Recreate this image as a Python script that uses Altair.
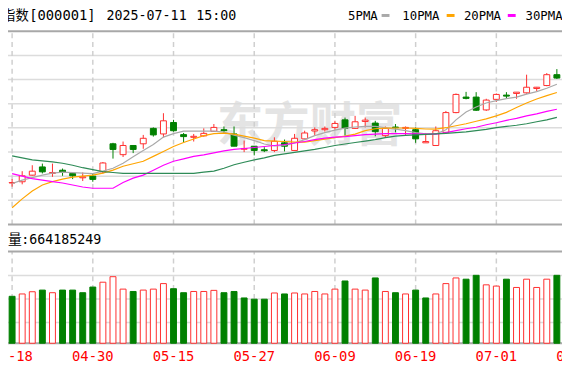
import altair as alt
import pandas as pd

# ---------------- data ----------------
dates = ["04-18","04-21","04-22","04-23","04-24","04-25","04-28","04-29","04-30","05-06",
         "05-07","05-08","05-09","05-12","05-13","05-14","05-15","05-16","05-19","05-20",
         "05-21","05-22","05-23","05-26","05-27","05-28","05-29","05-30","06-03","06-04",
         "06-05","06-06","06-09","06-10","06-11","06-12","06-13","06-16","06-17","06-18",
         "06-19","06-20","06-23","06-24","06-25","06-26","06-27","06-30","07-01","07-02",
         "07-03","07-04","07-07","07-08","07-09"]

opens = [3275.8, 3278.4, 3292.1, 3309.1, 3295.6, 3302.3, 3295.6, 3286.6, 3290.1, 3298.9,
         3357.0, 3334.5, 3353.5, 3357.0, 3388.9, 3377.4, 3401.1, 3376.0, 3370.4, 3373.3,
         3382.7, 3386.2, 3377.4, 3345.7, 3352.0, 3344.7, 3343.2, 3359.0, 3343.2, 3367.2,
         3383.5, 3386.2, 3390.9, 3406.6, 3388.9, 3403.2, 3399.9, 3373.9, 3391.7, 3388.9,
         3386.2, 3359.0, 3353.5, 3380.7, 3421.6, 3453.7, 3453.7, 3427.1, 3449.0, 3457.8,
         3461.2, 3462.5, 3471.5, 3477.6, 3500.1]
closes = [3276.8, 3290.7, 3300.3, 3298.9, 3297.6, 3297.6, 3290.7, 3288.6, 3283.3, 3317.3,
          3345.3, 3353.5, 3345.3, 3368.4, 3375.4, 3404.6, 3384.1, 3371.9, 3372.5, 3378.6,
          3390.9, 3384.1, 3352.0, 3347.3, 3343.2, 3342.6, 3362.3, 3352.0, 3368.4, 3379.4,
          3386.2, 3388.9, 3399.1, 3388.9, 3402.6, 3406.0, 3382.1, 3388.9, 3390.3, 3390.9,
          3367.2, 3361.7, 3384.1, 3421.6, 3459.2, 3451.0, 3426.5, 3447.5, 3459.2, 3455.7,
          3463.9, 3474.1, 3474.1, 3500.1, 3493.1]
highs = [3283.9, 3300.3, 3312.6, 3316.0, 3316.0, 3305.8, 3296.2, 3297.6, 3295.6, 3319.3,
         3359.0, 3361.7, 3353.5, 3375.4, 3390.9, 3420.3, 3406.6, 3379.4, 3377.4, 3388.9,
         3397.9, 3392.9, 3392.9, 3363.7, 3352.0, 3350.0, 3370.4, 3365.7, 3377.4, 3384.1,
         3390.9, 3392.9, 3404.6, 3411.3, 3414.8, 3411.3, 3404.6, 3392.9, 3397.9, 3392.9,
         3390.9, 3379.4, 3392.9, 3425.0, 3461.2, 3464.5, 3463.9, 3450.2, 3461.2, 3463.9,
         3463.9, 3500.1, 3474.7, 3503.4, 3511.6]
lows = [3268.2, 3273.1, 3291.1, 3295.6, 3288.6, 3290.7, 3283.9, 3279.9, 3278.4, 3295.6,
        3326.3, 3329.6, 3337.7, 3346.7, 3371.9, 3370.4, 3382.1, 3360.2, 3361.7, 3371.9,
        3382.1, 3377.4, 3352.0, 3339.8, 3333.0, 3339.8, 3339.8, 3341.2, 3343.2, 3365.7,
        3373.9, 3382.1, 3386.2, 3373.9, 3387.6, 3390.9, 3372.5, 3370.4, 3380.7, 3375.4,
        3359.0, 3359.0, 3353.5, 3379.4, 3420.3, 3449.0, 3425.0, 3425.0, 3443.5, 3450.2,
        3450.2, 3460.4, 3465.9, 3476.2, 3491.1]

ma5 = [3274.7, 3281.9, 3287.0, 3292.1, 3296.2, 3298.3, 3297.2, 3296.2, 3295.2, 3300.3,
       3306.4, 3316.7, 3330.0, 3343.3, 3355.5, 3370.9, 3378.0, 3383.1, 3383.1, 3383.1,
       3383.1, 3381.1, 3375.0, 3369.8, 3363.7, 3356.5, 3352.5, 3353.5, 3358.6, 3365.7,
       3373.9, 3380.1, 3385.2, 3389.3, 3391.7, 3392.9, 3392.9, 3390.3, 3387.2, 3384.2,
       3380.1, 3377.4, 3377.4, 3386.2, 3406.6, 3423.0, 3433.2, 3441.4, 3446.5, 3450.6,
       3453.7, 3459.8, 3464.9, 3472.1, 3480.3]
ma10 = [3224.6, 3243.0, 3259.4, 3271.7, 3278.8, 3283.9, 3288.0, 3290.1, 3292.1, 3296.2,
        3302.4, 3310.5, 3315.6, 3320.8, 3331.0, 3341.2, 3351.4, 3359.6, 3366.8, 3373.9,
        3378.0, 3379.0, 3377.0, 3372.9, 3368.8, 3363.7, 3362.7, 3361.7, 3360.6, 3360.6,
        3363.7, 3366.8, 3369.8, 3372.9, 3377.0, 3384.2, 3388.2, 3389.3, 3389.7, 3389.7,
        3388.9, 3387.6, 3387.2, 3390.3, 3394.4, 3398.5, 3403.6, 3408.7, 3414.8, 3422.0,
        3432.2, 3441.4, 3449.6, 3456.8, 3463.3]
ma20 = [3295.2, 3290.1, 3285.0, 3281.9, 3278.8, 3275.8, 3271.7, 3267.6, 3264.9, 3264.9,
        3264.9, 3276.8, 3286.0, 3292.1, 3302.4, 3312.6, 3320.8, 3325.9, 3331.0, 3334.0,
        3338.1, 3342.2, 3345.3, 3347.3, 3349.4, 3351.4, 3353.5, 3355.5, 3358.6, 3361.7,
        3365.7, 3368.8, 3370.9, 3371.9, 3373.9, 3376.0, 3377.0, 3378.0, 3378.0, 3378.0,
        3377.4, 3377.0, 3377.0, 3380.1, 3384.2, 3388.2, 3391.3, 3396.4, 3400.5, 3405.6,
        3409.7, 3414.8, 3418.9, 3424.0, 3428.5]
ma30 = [3332.0, 3327.9, 3323.8, 3321.8, 3319.7, 3316.7, 3312.6, 3307.5, 3303.4, 3299.3,
        3297.6, 3295.6, 3295.6, 3295.6, 3295.6, 3295.6, 3295.6, 3295.6, 3295.6, 3298.3,
        3300.3, 3306.4, 3313.6, 3318.7, 3323.8, 3327.9, 3333.0, 3336.1, 3339.2, 3342.2,
        3345.3, 3349.4, 3353.5, 3356.5, 3359.6, 3362.7, 3365.7, 3369.8, 3372.9, 3374.5,
        3375.4, 3376.4, 3377.4, 3378.6, 3380.1, 3381.5, 3384.2, 3386.8, 3390.3, 3392.9,
        3395.4, 3398.5, 3402.6, 3406.6, 3411.8]

# volume in 1e8 (hands); 1 = up day (red hollow), 0 = down day (green)
volumes = [3.40, 3.57, 3.73, 3.85, 3.66, 3.85, 3.85, 3.66, 4.07, 4.42,
           4.82, 3.92, 3.75, 3.85, 3.92, 4.32, 3.95, 3.66, 3.75, 3.75,
           3.83, 3.66, 3.75, 3.28, 3.19, 3.19, 3.64, 3.57, 3.64, 3.57,
           3.75, 3.57, 3.92, 4.51, 3.92, 3.85, 4.73, 3.75, 3.66, 3.57,
           3.85, 3.28, 3.57, 4.32, 4.73, 4.64, 4.92, 4.23, 4.14, 4.64,
           4.04, 4.64, 4.04, 4.64, 4.92]
vol_up = [0, 1, 1, 0, 1, 0, 0, 0, 0, 1,
          1, 1, 0, 1, 1, 1, 0, 0, 1, 1,
          1, 0, 0, 0, 0, 0, 1, 0, 1, 1,
          1, 1, 1, 0, 1, 1, 0, 1, 0, 1,
          0, 0, 1, 1, 1, 0, 0, 1, 1, 0,
          1, 1, 1, 1, 0]

tick_index = [0, 8, 16, 24, 32, 40, 48, 56]
tick_labels = ["04-18", "04-30", "05-15", "05-27", "06-09", "06-19", "07-01", "07-11"]

price_grid = [3240, 3290, 3340, 3390, 3440, 3490, 3540]
price_lo, price_hi = 3190, 3590
vol_grid = [1.5, 3.2, 4.9]
vol_hi = 6.64

ma_names = ["5PMA", "10PMA", "20PMA", "30PMA"]
ma_colors = ["#a9a9a9", "#ffa500", "#ff00ff", "#2e8b57"]

title_code = "[000001]"
title_date = "2025-07-11"
title_time = "15:00"
vol_label = "成交量"
vol_value = ":664185249"

# ---------------- frames ----------------
idx = list(range(len(dates)))
candles = pd.DataFrame({"i": idx, "date": dates, "open": opens, "close": closes,
                        "high": highs, "low": lows})
candles["up"] = candles["close"] >= candles["open"]
vol = pd.DataFrame({"i": idx, "v": volumes, "up": [u == 1 for u in vol_up]})
ma = pd.concat([pd.DataFrame({"i": idx, "val": s, "name": n})
                for s, n in zip([ma5, ma10, ma20, ma30], ma_names)])
ticks = pd.DataFrame({"i": tick_index, "label": tick_labels,
                      "lo": price_lo, "hi": price_hi, "v0": 0.0, "v1": vol_hi})

RED = "#ff2d2d"
GREEN = "#008000"

XS = alt.Scale(domain=[-0.70, 54.02], nice=False, zero=False)
PS = alt.Scale(domain=[price_lo, price_hi], range=[225, 29], nice=False, zero=False)
VS = alt.Scale(domain=[0, vol_hi], range=[345.5, 252.5], nice=False, zero=False)

def X(f="i:Q"):
    return alt.X(f, scale=XS, axis=None)

def PY(f):
    return alt.Y(f, scale=PS, axis=None)

def VY(f):
    return alt.Y(f, scale=VS, axis=None)

layers = []

# watermark
layers.append(alt.Chart(pd.DataFrame({"t": ["东方财富"]})).mark_text(
    font="Noto Sans CJK SC", fontSize=47, fontWeight="bold", color="#e4e4e4",
    align="center", baseline="middle").encode(
    x=alt.value(314), y=alt.value(126), text="t:N"))

# horizontal grid (price)
layers.append(alt.Chart(pd.DataFrame({"p": price_grid})).mark_rule(
    color="#dcdcdc", strokeWidth=1.5).encode(
    y=PY("p:Q"), x=alt.value(0), x2=alt.value(570)))
# horizontal grid (volume)
layers.append(alt.Chart(pd.DataFrame({"v": vol_grid})).mark_rule(
    color="#dcdcdc", strokeWidth=1.5).encode(
    y=VY("v:Q"), x=alt.value(0), x2=alt.value(570)))

# vertical dashed grid
layers.append(alt.Chart(ticks).mark_rule(
    color="#cfcfcf", strokeWidth=1.5, strokeDash=[5, 4]).encode(
    x=X(), y=PY("lo:Q"), y2="hi:Q"))
layers.append(alt.Chart(ticks).mark_rule(
    color="#cfcfcf", strokeWidth=1.5, strokeDash=[5, 4]).encode(
    x=X(), y=VY("v0:Q"), y2="v1:Q"))

# panel borders
layers.append(alt.Chart(pd.DataFrame({"p": [price_lo, price_hi]})).mark_rule(
    color="#a8a8a8", strokeWidth=2).encode(
    y=PY("p:Q"), x=alt.value(0), x2=alt.value(570)))
layers.append(alt.Chart(pd.DataFrame({"v": [0.0, vol_hi]})).mark_rule(
    color="#a8a8a8", strokeWidth=2).encode(
    y=VY("v:Q"), x=alt.value(0), x2=alt.value(570)))

# candles: wicks
layers.append(alt.Chart(candles).mark_rule(strokeWidth=1).encode(
    x=X(), y=PY("high:Q"), y2="low:Q",
    color=alt.Color("up:N", scale=alt.Scale(domain=[True, False], range=[RED, GREEN]),
                    legend=None)))
# candles: bodies
layers.append(alt.Chart(candles).transform_filter("datum.up").mark_bar(
    size=6, fill="white", stroke=RED, strokeWidth=1).encode(
    x=X(), y=PY("open:Q"), y2="close:Q"))
layers.append(alt.Chart(candles).transform_filter("!datum.up").mark_bar(
    size=6, fill=GREEN, stroke=GREEN, strokeWidth=1).encode(
    x=X(), y=PY("open:Q"), y2="close:Q"))

# moving averages
layers.append(alt.Chart(ma).mark_line(strokeWidth=1.2).encode(
    x=X(), y=PY("val:Q"),
    color=alt.Color("name:N", scale=alt.Scale(domain=ma_names, range=ma_colors),
                    legend=None),
    detail="name:N"))

# volume bars
layers.append(alt.Chart(vol).transform_filter("datum.up").mark_bar(
    size=6, fill="white", stroke=RED, strokeWidth=1).encode(
    x=X(), y=VY("v:Q"), y2=alt.datum(0)))
layers.append(alt.Chart(vol).transform_filter("!datum.up").mark_bar(
    size=6, fill=GREEN, stroke=GREEN, strokeWidth=1).encode(
    x=X(), y=VY("v:Q"), y2=alt.datum(0)))

# date labels
layers.append(alt.Chart(ticks).mark_text(
    font="DejaVu Sans Mono", fontSize=14, color="#ff0000",
    align="center", baseline="middle").encode(
    x=X(), y=alt.value(360), text="label:N"))

# header
def txt(s, x, y, font, size, align="left", color="black"):
    return alt.Chart(pd.DataFrame({"t": [s]})).mark_text(
        font=font, fontSize=size, color=color, align=align, baseline="middle").encode(
        x=alt.value(x), y=alt.value(y), text="t:N")

HY = 14
layers.append(txt("上证指数", 29, HY, "Noto Sans CJK SC", 13.5, align="right"))
layers.append(txt(title_code, 29.5, HY, "DejaVu Sans Mono", 14))
layers.append(txt(title_date, 108, HY, "DejaVu Sans Mono", 13.5))
layers.append(txt(title_time, 199, HY, "DejaVu Sans Mono", 13.5))

# MA legend
leg_text_x = [353, 408, 470.5, 533]
leg_sw_x = [387, 453, 515, 576]
for name, col, tx, sx in zip(ma_names, ma_colors, leg_text_x, leg_sw_x):
    layers.append(txt(name, tx, HY, "DejaVu Sans Mono", 12.5))
    layers.append(alt.Chart(pd.DataFrame({"c": [col]})).mark_rule(
        strokeWidth=3, color=col).encode(
        x=alt.value(sx), x2=alt.value(sx + 8), y=alt.value(HY - 1)))

# volume caption
layers.append(txt(vol_label, 22, 241, "Noto Sans CJK SC", 14, align="right"))
layers.append(txt(vol_value, 21.5, 241, "DejaVu Sans Mono", 13.5))

chart = alt.layer(*layers).resolve_scale(y="independent", color="independent").properties(
    width=570, height=374,
    autosize=alt.AutoSizeParams(type="none"),
    padding={"left": -8, "top": -8, "right": 0, "bottom": -8},
    background="white",
).configure_view(strokeWidth=0)

chart.save("out.html", embed_options={"renderer": "svg", "actions": False})
